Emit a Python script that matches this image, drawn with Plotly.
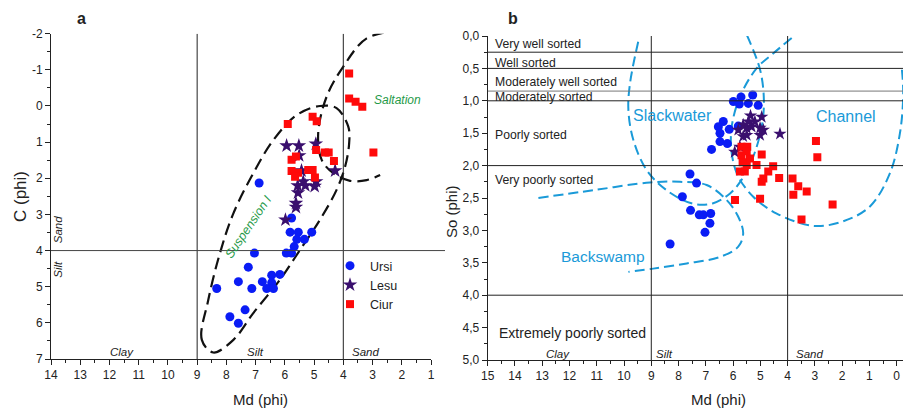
import plotly.graph_objects as go

# ---------------- Panel a: C (phi) vs Md (phi) ----------------
ursi_a_md = [6.88, 5.77, 5.82, 5.54, 5.08, 5.59, 5.33, 5.68, 5.95, 5.77, 7.04, 7.25, 7.59, 7.13, 6.77,
             6.45, 6.17, 6.45, 6.62, 6.39, 8.33, 7.88, 7.36, 7.59]
ursi_a_c = [2.13, 3.10, 3.49, 3.49, 3.49, 3.69, 3.69, 3.89, 4.07, 4.07, 4.07, 4.46, 4.86, 5.05, 4.86,
            4.68, 4.66, 4.89, 5.05, 5.05, 5.05, 5.83, 5.64, 6.01]

lesu_a_md = [5.94, 5.52, 4.94, 5.51, 5.43, 4.28, 5.37, 4.93, 5.30, 5.56, 4.98, 5.55, 5.62, 5.62, 5.98]
lesu_a_c = [1.10, 1.10, 1.05, 1.37, 1.79, 1.79, 2.09, 2.09, 2.20, 2.20, 2.22, 2.40, 2.69, 2.80, 3.15]

ciur_a_md = [3.80, 3.80, 3.58, 3.35, 2.97, 5.90, 5.05, 4.91, 4.93, 4.63, 4.50, 4.32, 5.77, 5.62,
             5.77, 5.55, 5.20, 5.05, 4.97, 5.65]
ciur_a_c = [-0.90, -0.21, -0.12, 0.02, 1.29, 0.50, 0.30, 0.42, 1.22, 1.29, 1.29, 1.52, 1.49, 1.40,
            1.80, 1.85, 1.77, 1.77, 1.98, 1.96]

# envelope curves
susp_md = [8.45, 8.84, 8.62, 8.22, 7.76, 7.08, 6.39, 5.59, 4.80, 4.23, 3.83, 3.80, 3.94, 4.23,
           4.80, 5.48, 6.17, 7.08, 7.76, 8.45]
susp_c = [6.82, 6.47, 5.37, 4.07, 2.97, 1.86, 0.94, 0.25, 0.00, 0.06, 0.57, 1.03, 1.68, 2.32,
          3.15, 3.98, 4.81, 5.73, 6.47, 6.82]
salt_md = [2.00, 3.20, 4.00, 4.57, 4.86, 4.74, 4.34, 3.77, 3.20, 2.74]
salt_c = [-2.10, -1.87, -1.09, -0.26, 0.76, 1.49, 1.86, 2.07, 2.05, 1.91]

# ---------------- Panel b: So (phi) vs Md (phi) ----------------
ursi_b_md = [5.99, 5.71, 5.28, 5.77, 5.44, 5.08, 6.36, 6.54, 6.48, 6.79, 6.14, 6.48, 6.21, 7.58,
             7.34, 7.86, 7.56, 7.24, 7.09, 6.82, 6.85, 7.03, 8.31, 5.81]
ursi_b_so = [1.01, 0.94, 0.91, 1.05, 1.04, 1.07, 1.32, 1.40, 1.50, 1.75, 1.44, 1.63, 1.66, 2.13,
             2.27, 2.48, 2.69, 2.76, 2.76, 2.74, 2.89, 3.03, 3.21, 1.39]

lesu_b_md = [5.36, 4.95, 5.63, 5.50, 5.81, 5.32, 5.01, 4.89, 5.63, 5.50, 5.75, 5.94, 4.28, 5.44, 5.20, 5.01]
lesu_b_so = [1.23, 1.25, 1.37, 1.42, 1.45, 1.40, 1.42, 1.45, 1.55, 1.53, 1.71, 1.79, 1.51, 1.32, 1.32, 1.53]

ciur_b_md = [5.69, 5.48, 5.69, 5.38, 4.95, 5.50, 5.14, 5.75, 5.57, 5.65, 4.53, 4.71, 4.95, 4.89,
             4.31, 3.82, 3.61, 3.30, 3.79, 5.93, 5.01, 3.49, 2.35, 2.96, 2.91, 5.50]
ciur_b_so = [1.71, 1.71, 1.84, 1.89, 1.83, 1.99, 1.99, 2.09, 2.09, 1.95, 2.01, 2.09, 2.25, 2.20,
             2.19, 2.20, 2.32, 2.40, 2.45, 2.53, 2.51, 2.83, 2.60, 1.62, 1.87, 1.78]

slack_md = [9.48, 9.78, 9.84, 9.66, 9.17, 8.44, 7.46, 6.73, 6.11, 5.69, 5.26, 4.95, 4.87, 5.01, 5.50]
slack_so = [0.09, 0.73, 1.14, 1.60, 2.07, 2.38, 2.59, 2.58, 2.43, 2.22, 1.86, 1.40, 0.99, 0.52, -0.02]
chan_md = [3.85, 4.53, 5.14, 5.75, 6.05, 6.05, 5.81, 5.26, 4.40, 3.06, 1.96, 0.98, 0.25, -0.12, -0.24, -0.18]
chan_so = [0.03, 0.27, 0.50, 0.94, 1.40, 1.81, 2.17, 2.48, 2.74, 2.93, 2.86, 2.63, 2.12, 1.50, 0.88, 0.47]
back_md = [13.14, 11.13, 9.05, 7.95, 6.97, 6.24, 5.81, 5.63, 5.81, 6.48, 7.70, 8.93, 9.84]
back_so = [2.50, 2.38, 2.26, 2.25, 2.30, 2.53, 2.79, 3.05, 3.25, 3.41, 3.51, 3.59, 3.64]

sort_bounds = [0.25, 0.5, 0.85, 1.0, 2.0, 4.0]
sort_labels = ["Very well sorted", "Well sorted", "Moderately well sorted", "Moderately sorted",
               "Poorly sorted", "Very poorly sorted", "Extremely poorly sorted"]
sort_label_y = [0.12, 0.42, 0.71, 0.94, 1.53, 2.22, 4.58]

a_xticks = list(range(14, 0, -1))
b_xticks = list(range(15, -1, -1))
a_yticks = list(range(-2, 8))
b_yticks = [0.0, 0.5, 1.0, 1.5, 2.0, 2.5, 3.0, 3.5, 4.0, 4.5, 5.0]
b_yticktext = ["0,0", "0,5", "1,0", "1,5", "2,0", "2,5", "3,0", "3,5", "4,0", "4,5", "5,0"]

BLUE = "#0a1cf5"
PURPLE = "#3a0f6e"
RED = "#ff0a0a"
CURVE_BLUE = "#1a9ad8"
GREEN = "#1f9a48"
FONT = "Liberation Sans, Arial, sans-serif"

# page has an 8px body margin: size the figure so that it fills the window
OFF = 8
W, H = 911 - OFF, 409 - OFF
def PX(x):
    return (x - OFF) / W
def PY(y):
    return 1 - (y - OFF) / H

fig = go.Figure()

def pts(x, y, xa, ya, name, color, symbol, size, show):
    fig.add_trace(go.Scatter(x=x, y=y, xaxis=xa, yaxis=ya, mode="markers", name=name,
                             showlegend=show, legendgroup=name,
                             marker=dict(color=color, symbol=symbol, size=size, line=dict(width=0))))

def curve(x, y, xa, ya, color, dash, width=2):
    fig.add_trace(go.Scatter(x=x, y=y, xaxis=xa, yaxis=ya, mode="lines", showlegend=False,
                             hoverinfo="skip",
                             line=dict(color=color, dash=dash, width=width, shape="spline", smoothing=1.0)))

curve(susp_md, susp_c, "x", "y", "#111111", "12px,6px", 2.2)
curve(salt_md, salt_c, "x", "y", "#111111", "12px,6px", 2.2)
pts(ursi_a_md, ursi_a_c, "x", "y", "Ursi", BLUE, "circle", 9, True)
pts(lesu_a_md, lesu_a_c, "x", "y", "Lesu", PURPLE, "star", 11, True)
pts(ciur_a_md, ciur_a_c, "x", "y", "Ciur", RED, "square", 8, True)

curve(slack_md, slack_so, "x2", "y2", CURVE_BLUE, "10px,5px", 2)
curve(chan_md, chan_so, "x2", "y2", CURVE_BLUE, "10px,5px", 2)
curve(back_md, back_so, "x2", "y2", CURVE_BLUE, "10px,5px", 2)
pts(ursi_b_md, ursi_b_so, "x2", "y2", "Ursi", BLUE, "circle", 9, False)
pts(lesu_b_md, lesu_b_so, "x2", "y2", "Lesu", PURPLE, "star", 10, False)
pts(ciur_b_md, ciur_b_so, "x2", "y2", "Ciur", RED, "square", 8, False)

tickfont = dict(family=FONT, size=12, color="#222")
common = dict(showgrid=False, zeroline=False, showline=True, linecolor="#222", linewidth=1,
              ticks="outside", ticklen=5, tickcolor="#222", tickfont=tickfont, automargin=False)

xa_dom = [PX(51), PX(431)]
ya_dom = [PY(359), PY(33.7)]
xb_dom = [PX(487.7), min(1.0, PX(910.3))]
yb_dom = [PY(360), PY(36)]

fig.update_layout(
    width=W, height=H, margin=dict(l=0, r=0, t=0, b=0, autoexpand=False),
    paper_bgcolor="white", plot_bgcolor="white",
    font=dict(family=FONT, color="#222"),
    xaxis=dict(domain=xa_dom, range=[14, 1], anchor="y", tickvals=a_xticks,
               minor=dict(tickvals=[v - 0.5 for v in a_xticks[:-1]], ticklen=3, ticks="outside", tickcolor="#222"),
               **common),
    yaxis=dict(domain=ya_dom, range=[7, -2], anchor="x", tickvals=a_yticks,
               ticktext=[str(v) for v in a_yticks],
               minor=dict(tickvals=[v + 0.5 for v in a_yticks[:-1]], ticklen=3, ticks="outside", tickcolor="#222"),
               **common),
    xaxis2=dict(domain=xb_dom, range=[15, -0.5], anchor="y2", tickvals=b_xticks,
                minor=dict(tickvals=[v - 0.5 for v in b_xticks[:-1]], ticklen=3, ticks="outside", tickcolor="#222"),
                **common),
    yaxis2=dict(domain=yb_dom, range=[5, 0], anchor="x2", tickvals=b_yticks, ticktext=b_yticktext,
                minor=dict(tickvals=[v + 0.25 for v in b_yticks[:-1]], ticklen=3, ticks="outside", tickcolor="#222"),
                **common),
    legend=dict(x=PX(330), y=PY(251), xanchor="left", yanchor="top", bgcolor="rgba(0,0,0,0)",
                font=dict(family=FONT, size=12.5, color="#222"), tracegroupgap=0, itemsizing="trace"),
)

shapes = []
# panel a boundary lines
for v in [9, 4]:
    shapes.append(dict(type="line", xref="x", yref="y", x0=v, x1=v, y0=-2, y1=7,
                       line=dict(color="#222", width=1)))
ya_c4 = ya_dom[1] - (6 / 9) * (ya_dom[1] - ya_dom[0])
shapes.append(dict(type="line", xref="paper", yref="paper", x0=xa_dom[0], x1=PX(445), y0=ya_c4, y1=ya_c4,
                   line=dict(color="#444", width=1)))
# panel b
for v in [9, 4]:
    shapes.append(dict(type="line", xref="x2", yref="y2", x0=v, x1=v, y0=0, y1=5,
                       line=dict(color="#222", width=1)))
for b in sort_bounds:
    shapes.append(dict(type="line", xref="x2", yref="y2", x0=15, x1=-0.5, y0=b, y1=b,
                       line=dict(color="#777" if b == 0.85 else "#222", width=1)))
fig.update_layout(shapes=shapes)

ann = []
def txt(x, y, s, xref="x", yref="y", size=11.5, color="#222", italic=False, angle=0, xanchor="center", bold=False):
    ann.append(dict(x=x, y=y, xref=xref, yref=yref, text=("<b>%s</b>" % s) if bold else s, showarrow=False,
                    textangle=angle, xanchor=xanchor, yanchor="middle",
                    font=dict(family=FONT, size=size, color=color, style="italic" if italic else "normal")))

# panel a texts
txt(PX(81), PY(18), "a", "paper", "paper", size=16, bold=True)
txt(PX(20), PY(197), "C (phi)", "paper", "paper", size=17, angle=-90)
txt(PX(260), PY(399), "Md (phi)", "paper", "paper", size=15)
txt(11.58, 6.80, "Clay", italic=True)
txt(7.00, 6.80, "Silt", italic=True)
txt(3.23, 6.80, "Sand", italic=True)
txt(13.75, 3.43, "Sand", italic=True, angle=-90)
txt(13.75, 4.52, "Silt", italic=True, angle=-90)
txt(2.15, -0.17, "Saltation", size=12, color=GREEN, italic=True)
txt(7.25, 3.34, "Suspension I", size=12.5, color=GREEN, italic=True, angle=-56)

# panel b texts
txt(PX(513), PY(18), "b", "paper", "paper", size=16, bold=True)
txt(PX(452), PY(212), "So (phi)", "paper", "paper", size=15, angle=-90)
txt(PX(718), PY(399), "Md (phi)", "paper", "paper", size=15)
for lab, yy in zip(sort_labels, sort_label_y):
    big = lab.startswith("Extremely")
    txt(14.66 if big else 14.82, yy, lab, "x2", "y2", size=14 if big else 12.2, xanchor="left")
txt(12.43, 4.90, "Clay", "x2", "y2", italic=True)
txt(8.50, 4.90, "Silt", "x2", "y2", italic=True)
txt(3.18, 4.90, "Sand", "x2", "y2", italic=True)
txt(8.23, 1.23, "Slackwater", "x2", "y2", size=16, color=CURVE_BLUE)
txt(1.86, 1.245, "Channel", "x2", "y2", size=16, color=CURVE_BLUE)
txt(10.76, 3.41, "Backswamp", "x2", "y2", size=15.5, color=CURVE_BLUE)
fig.update_layout(annotations=ann)

fig.write_html("out.html")
